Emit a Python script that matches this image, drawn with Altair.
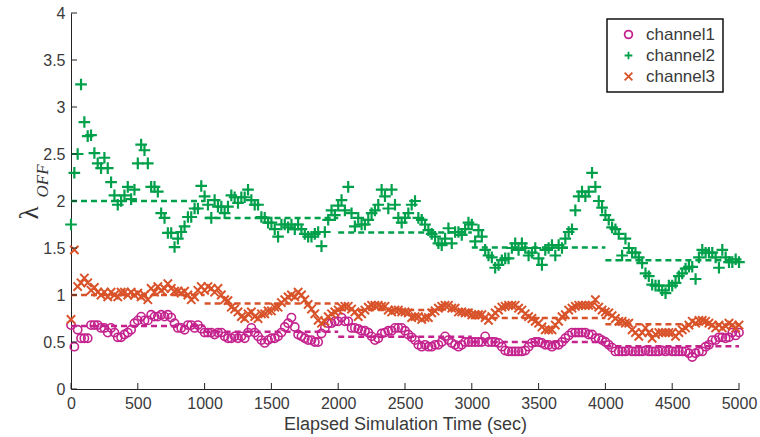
import altair as alt
import pandas as pd

# sampling times (sec)
time_sec = list(range(0, 5001, 25))

channel1 = [
    0.68, 0.45, 0.63, 0.54, 0.54, 0.54, 0.68, 0.68, 0.68, 0.65,
    0.65, 0.60, 0.65, 0.60, 0.55, 0.55, 0.58, 0.60, 0.63, 0.70,
    0.73, 0.77, 0.73, 0.73, 0.79, 0.77, 0.77, 0.79, 0.77, 0.79,
    0.76, 0.70, 0.65, 0.65, 0.63, 0.68, 0.68, 0.65, 0.68, 0.64,
    0.60, 0.60, 0.60, 0.58, 0.60, 0.60, 0.56, 0.54, 0.54, 0.56,
    0.54, 0.56, 0.54, 0.60, 0.65, 0.60, 0.56, 0.52, 0.49, 0.52,
    0.54, 0.54, 0.56, 0.60, 0.66, 0.70, 0.76, 0.66, 0.58, 0.56,
    0.54, 0.52, 0.52, 0.50, 0.50, 0.59, 0.65, 0.70, 0.70, 0.72,
    0.72, 0.76, 0.72, 0.72, 0.65, 0.65, 0.64, 0.62, 0.62, 0.60,
    0.56, 0.52, 0.54, 0.59, 0.60, 0.62, 0.62, 0.65, 0.65, 0.65,
    0.62, 0.58, 0.55, 0.52, 0.47, 0.45, 0.47, 0.45, 0.45, 0.47,
    0.47, 0.50, 0.56, 0.52, 0.49, 0.47, 0.45, 0.47, 0.50, 0.50,
    0.50, 0.50, 0.50, 0.50, 0.56, 0.50, 0.50, 0.50, 0.49, 0.45,
    0.41, 0.40, 0.40, 0.40, 0.40, 0.40, 0.41, 0.45, 0.49, 0.50,
    0.50, 0.49, 0.47, 0.47, 0.45, 0.47, 0.47, 0.50, 0.54, 0.57,
    0.60, 0.60, 0.60, 0.60, 0.60, 0.58, 0.58, 0.54, 0.54, 0.52,
    0.50, 0.47, 0.44, 0.40, 0.40, 0.40, 0.40, 0.41, 0.40, 0.40,
    0.40, 0.40, 0.41, 0.40, 0.40, 0.40, 0.40, 0.41, 0.40, 0.41,
    0.40, 0.40, 0.40, 0.40, 0.40, 0.38, 0.34, 0.38, 0.40, 0.40,
    0.45, 0.47, 0.52, 0.52, 0.55, 0.55, 0.54, 0.55, 0.60, 0.57,
    0.60,
]

channel2 = [
    1.75, 2.30, 2.50, 3.24, 2.84, 2.69, 2.70, 2.51, 2.40, 2.35,
    2.46, 2.35, 2.20, 2.06, 1.96, 2.00, 2.06, 2.15, 2.02, 2.12,
    2.40, 2.60, 2.54, 2.40, 2.15, 2.15, 2.10, 1.87, 1.82, 1.66,
    1.66, 1.51, 1.60, 1.67, 1.73, 1.83, 1.83, 1.92, 1.92, 2.16,
    2.05, 1.96, 1.82, 2.01, 1.94, 1.94, 1.87, 1.94, 2.06, 2.04,
    1.98, 2.04, 2.04, 2.12, 2.01, 1.96, 1.96, 1.83, 1.82, 1.77,
    1.77, 1.70, 1.62, 1.75, 1.75, 1.72, 1.75, 1.70, 1.75, 1.70,
    1.65, 1.62, 1.62, 1.65, 1.67, 1.52, 1.67, 1.80, 1.90, 1.85,
    1.95, 2.01, 1.90, 2.15, 1.87, 1.73, 1.82, 1.75, 1.75, 1.80,
    1.87, 1.90, 1.96, 2.12, 2.05, 1.92, 2.12, 1.96, 1.82, 1.77,
    1.82, 1.87, 1.96, 2.00, 1.82, 1.80, 1.75, 1.69, 1.65, 1.62,
    1.55, 1.53, 1.60, 1.71, 1.55, 1.67, 1.67, 1.64, 1.70, 1.77,
    1.75, 1.57, 1.69, 1.62, 1.48, 1.42, 1.40, 1.29, 1.32, 1.37,
    1.39, 1.39, 1.50, 1.55, 1.48, 1.55, 1.50, 1.42, 1.45, 1.50,
    1.39, 1.32, 1.48, 1.50, 1.53, 1.42, 1.53, 1.50, 1.60, 1.67,
    1.70, 1.90, 2.05, 2.10, 2.05, 2.10, 2.30, 2.15, 2.00, 1.93,
    1.85, 1.80, 1.72, 1.70, 1.65, 1.42, 1.60, 1.50, 1.45, 1.45,
    1.40, 1.34, 1.23, 1.20, 1.11, 1.10, 1.10, 1.05, 1.02, 1.10,
    1.10, 1.13, 1.20, 1.23, 1.28, 1.30, 1.30, 1.17, 1.40, 1.48,
    1.45, 1.45, 1.45, 1.40, 1.29, 1.48, 1.40, 1.35, 1.35, 1.38,
    1.35,
]

channel3 = [
    0.74, 1.48, 1.09, 1.13, 1.18, 1.13, 1.05, 1.08, 1.03, 1.00,
    1.03, 0.98, 1.03, 1.00, 0.98, 1.03, 1.03, 1.00, 1.03, 1.00,
    1.02, 0.98, 1.00, 0.95, 1.07, 1.03, 1.09, 1.05, 1.07, 1.12,
    1.07, 1.04, 1.04, 1.02, 1.04, 1.00, 0.95, 0.98, 1.05, 1.09,
    1.05, 1.09, 1.07, 1.03, 1.07, 1.00, 0.95, 0.94, 0.87, 0.85,
    0.82, 0.77, 0.75, 0.80, 0.82, 0.77, 0.75, 0.80, 0.80, 0.83,
    0.83, 0.87, 0.87, 0.92, 0.95, 0.98, 1.00, 0.98, 1.03, 1.00,
    0.95, 0.90, 0.85, 0.80, 0.73, 0.70, 0.72, 0.77, 0.80, 0.82,
    0.84, 0.87, 0.88, 0.88, 0.85, 0.82, 0.77, 0.80, 0.84, 0.87,
    0.89, 0.89, 0.89, 0.88, 0.88, 0.84, 0.82, 0.84, 0.84, 0.82,
    0.82, 0.81, 0.76, 0.77, 0.77, 0.74, 0.76, 0.76, 0.81, 0.83,
    0.86, 0.88, 0.89, 0.89, 0.86, 0.86, 0.82, 0.82, 0.81, 0.81,
    0.79, 0.79, 0.79, 0.79, 0.76, 0.73, 0.77, 0.81, 0.84, 0.87,
    0.88, 0.89, 0.89, 0.89, 0.86, 0.84, 0.80, 0.77, 0.75, 0.72,
    0.70, 0.66, 0.63, 0.63, 0.63, 0.68, 0.72, 0.77, 0.79, 0.84,
    0.86, 0.88, 0.89, 0.89, 0.89, 0.89, 0.89, 0.95, 0.87, 0.84,
    0.82, 0.81, 0.78, 0.75, 0.72, 0.72, 0.70, 0.70, 0.63, 0.60,
    0.56, 0.60, 0.65, 0.60, 0.54, 0.58, 0.60, 0.60, 0.60, 0.60,
    0.60, 0.56, 0.60, 0.63, 0.65, 0.68, 0.72, 0.70, 0.73, 0.73,
    0.72, 0.70, 0.68, 0.65, 0.68, 0.65, 0.67, 0.70, 0.68, 0.65,
    0.68,
]

# window means (dashed steps)
seg_start = [0, 1000, 2000, 3000, 4000]
seg_end = [1000, 2000, 3000, 4000, 5000]
mean1 = [0.67, 0.61, 0.555, 0.50, 0.455]
mean2 = [2.0, 1.82, 1.665, 1.505, 1.37]
mean3 = [1.0, 0.91, 0.84, 0.755, 0.69]

x_ticks = [0, 500, 1000, 1500, 2000, 2500, 3000, 3500, 4000, 4500, 5000]
y_ticks = [0, 0.5, 1, 1.5, 2, 2.5, 3, 3.5, 4]

names = ["channel1", "channel2", "channel3"]
colors = ["#C4238E", "#00A04B", "#D9532A"]
shapes = ["circle", "M-1,0L1,0M0,-1L0,1", "M-1,-1L1,1M-1,1L1,-1"]
sizes = [68, 135, 70]
widths = [1.6, 2.2, 2.0]

assert len(channel1) == len(channel2) == len(channel3) == len(time_sec)

FONT = "Liberation Sans, Arial, Helvetica, sans-serif"
xs = alt.Scale(domain=[0, 5000], nice=False, zero=False)
ys = alt.Scale(domain=[0, 4], nice=False)
x_axis = alt.Axis(values=x_ticks, title="Elapsed Simulation Time (sec)",
                  labelFlush=False, labelOverlap=False, format="d")
y_axis = alt.Axis(values=y_ticks, title=None, format=".1~f",
                  labelFlush=False, labelOverlap=False)
color_scale = alt.Scale(domain=names, range=colors)
shape_scale = alt.Scale(domain=names, range=shapes)
leg = alt.Legend(title=None, orient="none", legendX=536, legendY=6)

seg_layers = []
point_layers = []
for nm, vals, means, col, sz, sw in zip(names, [channel1, channel2, channel3],
                                        [mean1, mean2, mean3], colors, sizes, widths):
    sdf = pd.DataFrame({"start": seg_start, "end": seg_end, "mean": means})
    seg_layers.append(
        alt.Chart(sdf).mark_rule(strokeDash=[6, 4], strokeWidth=2.5, color=col).encode(
            x=alt.X("start:Q", scale=xs, axis=x_axis),
            x2="end:Q",
            y=alt.Y("mean:Q", scale=ys, axis=y_axis),
        )
    )
    pdf = pd.DataFrame({"t": time_sec, "v": vals, "channel": nm})
    point_layers.append(
        alt.Chart(pdf).mark_point(filled=False, opacity=1, size=sz, strokeWidth=sw).encode(
            x=alt.X("t:Q", scale=xs, axis=x_axis),
            y=alt.Y("v:Q", scale=ys, axis=y_axis),
            color=alt.Color("channel:N", scale=color_scale, legend=leg),
            shape=alt.Shape("channel:N", scale=shape_scale, legend=leg),
        )
    )

xt = alt.Chart(pd.DataFrame({"xt": x_ticks})).mark_rule(color="#222", strokeWidth=1).encode(
    x=alt.X("xt:Q", scale=xs, axis=x_axis), y=alt.value(376), y2=alt.value(370))
yt = alt.Chart(pd.DataFrame({"yt": y_ticks})).mark_rule(color="#222", strokeWidth=1).encode(
    y=alt.Y("yt:Q", scale=ys, axis=y_axis), x=alt.value(0), x2=alt.value(6))

lam = alt.Chart(pd.DataFrame({"s": ["λ"]})).mark_text(
    font="Liberation Serif, DejaVu Serif, serif", fontSize=27, angle=270,
    align="center", baseline="middle", color="#333").encode(
    x=alt.value(-41), y=alt.value(200), text="s:N")
sub = alt.Chart(pd.DataFrame({"s": ["OFF"]})).mark_text(
    font="Liberation Serif, DejaVu Serif, serif", fontSize=17, fontStyle="italic", angle=270,
    align="center", baseline="middle", color="#333").encode(
    x=alt.value(-28), y=alt.value(168), text="s:N")

chart = alt.layer(*seg_layers, *point_layers, xt, yt, lam, sub).properties(
    width=668, height=376,
    padding={"left": 71, "top": 13, "right": 21, "bottom": 48},
    autosize=alt.AutoSizeParams(type="none"),
).configure_view(stroke=None).configure_axis(
    grid=False, ticks=False, tickSize=0, domainColor="#222", domainWidth=1,
    labelFont=FONT, labelFontSize=16, labelColor="#3a3a3a", labelPadding=6,
    titleFont=FONT, titleFontSize=18, titleColor="#3a3a3a", titleFontWeight="normal", titlePadding=4,
).configure_legend(
    strokeColor="#111", strokeWidth=1.5, fillColor="white", padding=7,
    labelFont=FONT, labelFontSize=17, labelColor="#3a3a3a", labelOffset=9,
    symbolStrokeWidth=1.8, symbolSize=60, rowPadding=3, symbolOffset=6,
)

chart.save("out.html", embed_options={"renderer": "svg", "actions": False})
